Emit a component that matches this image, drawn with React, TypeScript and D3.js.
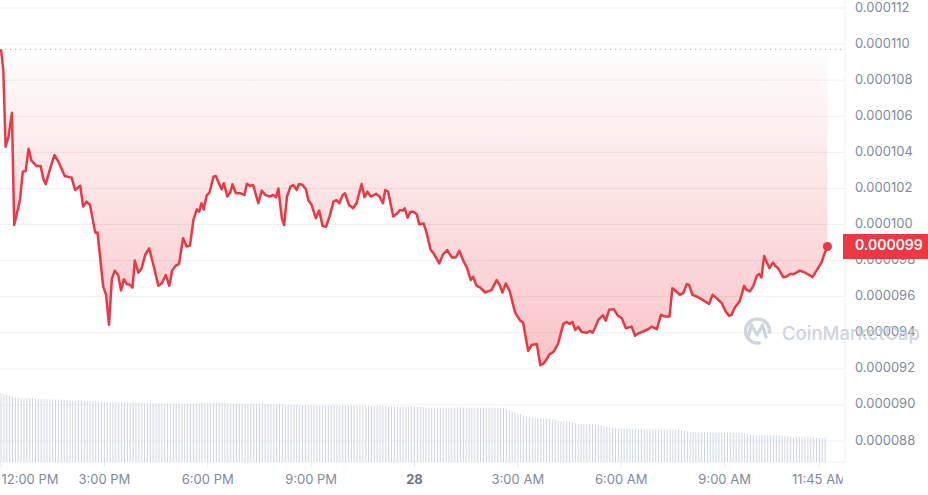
import React from "react";
import * as d3 from "d3";

// Price (in units of 1e-6 USD), sampled at minutes after 12:00 PM (day 27)
const priceMinutes = [
  0, 4, 8, 13, 19, 23, 33, 38, 43, 48, 53, 62, 69, 74, 78, 84, 93, 100, 111, 123,
  129, 138, 143, 149, 155, 164, 168, 178, 183, 188, 193, 198, 204, 209, 214, 219, 225, 229, 233, 239,
  245, 251, 258, 266, 274, 280, 287, 293, 298, 304, 310, 317, 323, 329, 335, 341, 345, 349, 353, 358,
  363, 370, 374, 378, 384, 388, 394, 399, 403, 409, 417, 424, 428, 434, 439, 448, 454, 460, 468, 474,
  479, 483, 489, 493, 498, 504, 509, 515, 519, 525, 531, 535, 541, 548, 554, 560, 566, 572, 579, 584,
  589, 595, 599, 606, 613, 619, 628, 633, 638, 644, 653, 659, 665, 669, 674, 683, 689, 695, 700, 703,
  708, 713, 718, 724, 728, 736, 741, 748, 754, 763, 770, 777, 785, 792, 798, 805, 811, 818, 822, 828,
  834, 843, 848, 854, 863, 869, 873, 879, 886, 895, 904, 909, 918, 924, 933, 939, 944, 950, 955, 962,
  970, 979, 985, 990, 995, 1000, 1005, 1011, 1020, 1026, 1030, 1034, 1040, 1048, 1053, 1059, 1067, 1073, 1081, 1088,
  1098, 1104, 1110, 1118, 1127, 1133, 1142, 1149, 1156, 1164, 1169, 1176, 1182, 1188, 1194, 1198, 1204, 1211, 1217, 1226,
  1233, 1239, 1246, 1255, 1262, 1268, 1272, 1278, 1286, 1294, 1298, 1304, 1310, 1316, 1320, 1324, 1329, 1333, 1338, 1344,
  1348, 1353, 1362, 1368, 1374, 1381, 1391, 1400, 1407, 1413, 1420, 1429, 1433, 1439,
];
const priceValues = [
  109.71, 108.56, 104.31, 104.87, 106.19, 99.97, 101.36, 102.93, 102.97, 104.2, 103.54, 103.24, 103.24, 102.5, 102.24, 102.93, 103.85, 103.48, 102.69, 102.6,
  101.91, 102.15, 100.99, 101.27, 101.08, 99.55, 99.55, 96.56, 96.1, 94.44, 96.97, 97.44, 97.2, 96.34, 96.97, 96.7, 96.65, 96.5, 98.0, 97.33,
  97.58, 98.31, 98.68, 97.67, 96.6, 96.74, 97.2, 96.6, 97.45, 97.71, 97.82, 99.24, 98.78, 98.83, 100.25, 100.84, 100.71, 101.18, 100.84, 101.6,
  101.77, 102.65, 102.69, 102.38, 101.95, 102.29, 101.55, 101.77, 102.23, 101.73, 101.73, 101.64, 102.25, 102.14, 102.19, 101.18, 101.88, 101.64, 101.55, 101.64,
  101.51, 102.0, 100.35, 99.97, 101.55, 102.1, 102.19, 101.91, 102.25, 102.19, 101.95, 101.36, 101.08, 100.35, 100.77, 99.92, 99.88, 100.44, 101.27, 101.36,
  101.18, 101.64, 101.73, 101.08, 100.9, 101.18, 102.25, 101.51, 101.82, 101.55, 101.7, 101.55, 101.18, 101.91, 101.82, 100.44, 100.59, 100.81, 100.77, 100.9,
  100.38, 100.71, 100.71, 100.57, 100.02, 100.05, 99.55, 98.6, 98.36, 97.84, 98.36, 98.58, 98.17, 98.17, 98.54, 97.99, 97.62, 96.92, 97.1, 96.6,
  96.51, 96.23, 96.29, 96.36, 96.92, 96.6, 96.23, 96.73, 96.29, 95.13, 94.67, 94.57, 92.99, 93.32, 93.38, 92.2, 92.27, 92.53, 92.8, 92.94,
  93.4, 94.48, 94.6, 94.48, 94.6, 94.15, 94.33, 94.04, 94.0, 94.1, 94.0, 94.25, 94.71, 94.97, 94.67, 95.27, 95.31, 94.99, 94.8, 94.25,
  94.34, 93.83, 93.97, 94.07, 94.2, 94.34, 94.2, 94.99, 94.9, 94.9, 96.47, 96.29, 96.1, 96.2, 96.69, 96.65, 96.1, 96.01, 95.92, 95.73,
  95.6, 96.1, 95.92, 95.64, 95.17, 94.93, 94.99, 95.41, 95.73, 96.6, 96.38, 96.29, 96.6, 97.15, 97.26, 97.06, 98.26, 97.94, 97.58, 97.89,
  97.71, 97.58, 97.08, 97.12, 97.26, 97.26, 97.44, 97.33, 97.2, 97.08, 97.44, 97.91, 98.31, 98.78,
];
const openPrice = 109.71;

// Volume (millions, arbitrary scale), one bar every 5 minutes, 12 per hour
const volumeValues = [
  6.87, 6.8, 6.7, 6.62, 6.55, 6.45, 6.4, 6.37, 6.37, 6.36, 6.36, 6.35,
  6.3, 6.28, 6.27, 6.27, 6.27, 6.26, 6.26, 6.25, 6.25, 6.24, 6.22, 6.15,
  6.12, 6.12, 6.1, 6.1, 6.1, 6.09, 6.09, 6.08, 6.07, 6.07, 6.05, 6.02,
  6.0, 6.01, 6.0, 6.0, 5.99, 5.99, 5.99, 5.99, 5.98, 5.98, 5.97, 5.96,
  5.96, 5.94, 5.92, 5.9, 5.89, 5.88, 5.88, 5.87, 5.87, 5.87, 5.87, 5.87,
  5.86, 5.86, 5.86, 5.86, 5.86, 5.86, 5.86, 5.86, 5.87, 5.87, 5.9, 5.93,
  5.94, 5.93, 5.93, 5.93, 5.92, 5.92, 5.91, 5.9, 5.89, 5.88, 5.87, 5.86,
  5.84, 5.84, 5.84, 5.84, 5.83, 5.83, 5.83, 5.82, 5.82, 5.82, 5.82, 5.81,
  5.8, 5.78, 5.76, 5.72, 5.7, 5.7, 5.69, 5.68, 5.68, 5.68, 5.67, 5.67,
  5.67, 5.66, 5.66, 5.66, 5.66, 5.66, 5.65, 5.65, 5.65, 5.65, 5.65, 5.64,
  5.64, 5.64, 5.64, 5.63, 5.63, 5.63, 5.63, 5.63, 5.62, 5.62, 5.62, 5.61,
  5.6, 5.59, 5.57, 5.55, 5.54, 5.54, 5.54, 5.53, 5.53, 5.53, 5.53, 5.52,
  5.52, 5.51, 5.5, 5.48, 5.46, 5.45, 5.45, 5.45, 5.45, 5.45, 5.45, 5.45,
  5.45, 5.45, 5.45, 5.45, 5.45, 5.45, 5.45, 5.46, 5.46, 5.45, 5.45, 5.45,
  5.45, 5.45, 5.45, 5.45, 5.44, 5.43, 5.42, 5.4, 5.35, 5.2, 5.05, 4.95,
  4.88, 4.8, 4.65, 4.5, 4.45, 4.44, 4.43, 4.42, 4.4, 4.38, 4.36, 4.32,
  4.28, 4.22, 4.1, 4.05, 4.04, 4.03, 4.02, 4.0, 3.9, 3.82, 3.8, 3.8,
  3.79, 3.79, 3.78, 3.75, 3.7, 3.68, 3.62, 3.55, 3.48, 3.42, 3.38, 3.35,
  3.33, 3.32, 3.31, 3.3, 3.3, 3.3, 3.29, 3.29, 3.28, 3.28, 3.28, 3.27,
  3.27, 3.27, 3.27, 3.26, 3.26, 3.26, 3.25, 3.25, 3.24, 3.2, 3.12, 3.05,
  3.0, 2.98, 2.97, 2.97, 2.96, 2.96, 2.95, 2.95, 2.95, 2.94, 2.94, 2.93,
  2.93, 2.92, 2.92, 2.91, 2.91, 2.9, 2.9, 2.88, 2.82, 2.75, 2.72, 2.7,
  2.7, 2.69, 2.69, 2.68, 2.68, 2.67, 2.67, 2.66, 2.62, 2.58, 2.55, 2.52,
  2.5, 2.49, 2.48, 2.47, 2.46, 2.45, 2.45, 2.44, 2.44, 2.43, 2.43, 2.42,
];
const volumeStepMinutes = 5;

const yTickValues = [88, 90, 92, 94, 96, 98, 100, 102, 104, 106, 108, 110, 112];
const xTickMinutes = [0, 180, 360, 540, 720, 900, 1080, 1260, 1425];
const xTickLabels = ["12:00 PM", "3:00 PM", "6:00 PM", "9:00 PM", "28", "3:00 AM", "6:00 AM", "9:00 AM", "11:45 AM"];
const xTickBold = [false, false, false, false, true, false, false, false, false];

const W = 928;
const H = 495;
const RED = "#EA3943";
const FONT = "Inter, 'Noto Sans', sans-serif";

export default function App() {
  const start = new Date(2024, 2, 27, 12, 0, 0);
  const atMin = (m: number) => new Date(start.getTime() + m * 60000);
  const x = d3.scaleTime().domain([start, atMin(1440)]).range([1, 828]);
  const y = d3.scaleLinear().domain([88, 112]).range([441, 8]);
  const yVol = d3.scaleLinear().domain([0, 10]).range([462, 362]);
  const plotRight = 845;
  const bottom = 462;

  const pts = priceMinutes.map((m, i) => ({ t: atMin(m), v: priceValues[i] }));
  const line = d3
    .line<{ t: Date; v: number }>()
    .x((d) => x(d.t))
    .y((d) => y(d.v));
  const area = d3
    .area<{ t: Date; v: number }>()
    .x((d) => x(d.t))
    .y0(() => y(openPrice))
    .y1((d) => y(Math.min(d.v, openPrice)));

  const last = pts[pts.length - 1];
  const fmt = (v: number) => (v / 1e6).toFixed(6);

  return (
    <svg
      width={W}
      height={H}
      style={{ position: "absolute", left: 0, top: 0, display: "block", background: "#fff" }}
    >
      <defs>
        <linearGradient id="fillGrad" gradientUnits="userSpaceOnUse" x1="0" y1={y(openPrice)} x2="0" y2={y(92)}>
          <stop offset="0" stopColor={RED} stopOpacity={0.01} />
          <stop offset="1" stopColor={RED} stopOpacity={0.3} />
        </linearGradient>
        <clipPath id="xclip">
          <rect x={0} y={0} width={plotRight - 2} height={H} />
        </clipPath>
      </defs>

      {/* grid */}
      {yTickValues.map((v) => (
        <line key={v} x1={0} x2={plotRight} y1={y(v)} y2={y(v)} stroke="#eef0f4" strokeWidth={1} />
      ))}
      <line x1={plotRight} x2={plotRight} y1={0} y2={bottom} stroke="#eef0f4" strokeWidth={1} />
      <line x1={0} x2={plotRight} y1={bottom} y2={bottom} stroke="#eef0f4" strokeWidth={1} />

      {/* volume */}
      {volumeValues.map((v, i) => {
        const xx = x(atMin(i * volumeStepMinutes));
        return <rect key={i} x={xx - 0.5} y={yVol(v)} width={1} height={bottom - yVol(v)} fill="#cdd4e1" />;
      })}

      {/* area */}
      <path d={area(pts) || ""} fill="url(#fillGrad)" />

      {/* open price dotted line */}
      <line
        x1={0}
        x2={plotRight}
        y1={y(openPrice)}
        y2={y(openPrice)}
        stroke="#a6acb8"
        strokeWidth={1}
        strokeDasharray="1.2 3.8"
      />

      {/* price line */}
      <path d={line(pts) || ""} fill="none" stroke={RED} strokeWidth={2.5} strokeLinejoin="round" />
      <circle cx={x(last.t)} cy={y(last.v)} r={4.5} fill={RED} />

      {/* x ticks */}
      <g clipPath="url(#xclip)">
        {xTickMinutes.map((m, i) => {
          const px = x(atMin(m));
          const lx = Math.max(px, 30);
          return (
            <g key={m}>
              <line x1={px} x2={px} y1={bottom} y2={bottom + 5} stroke="#e4e7ec" />
              <text
                x={lx}
                y={480}
                textAnchor="middle"
                dominantBaseline="middle"
                fontFamily={FONT}
                fontSize={13}
                fontWeight={xTickBold[i] ? 700 : 400}
                fill={xTickBold[i] ? "#6b7587" : "#808A9D"}
              >
                {xTickLabels[i]}
              </text>
            </g>
          );
        })}
      </g>

      {/* y axis labels */}
      {yTickValues.map((v) => (
        <text
          key={v}
          x={855}
          y={y(v)}
          dominantBaseline="middle"
          fontFamily={FONT}
          fontSize={13}
          fill="#808A9D"
        >
          {fmt(v)}
        </text>
      ))}

      {/* watermark */}
      <g opacity={0.8}>
        <circle
          cx={757.5}
          cy={331}
          r={12}
          fill="none"
          stroke="#c3cbd8"
          strokeWidth={3.5}
          strokeDasharray="62 14"
          transform="rotate(75 757.5 331)"
        />
        <path
          d="M748,337 L751.5,325 L757,335 L762.5,325 L766,337"
          fill="none"
          stroke="#c3cbd8"
          strokeWidth={3.2}
          strokeLinejoin="round"
          strokeLinecap="round"
        />
        <text x={782} y={340} fontFamily={FONT} fontSize={18.5} fontWeight={500} fill="#c3cbd8">
          CoinMarketCap
        </text>
      </g>

      {/* current price label */}
      <rect x={843} y={y(last.v) - 12.5} width={W - 843} height={25} fill={RED} />
      <text
        x={855}
        y={y(last.v)}
        dominantBaseline="middle"
        fontFamily={FONT}
        fontSize={14}
        fontWeight={600}
        fill="#fff"
      >
        {fmt(last.v)}
      </text>
    </svg>
  );
}
